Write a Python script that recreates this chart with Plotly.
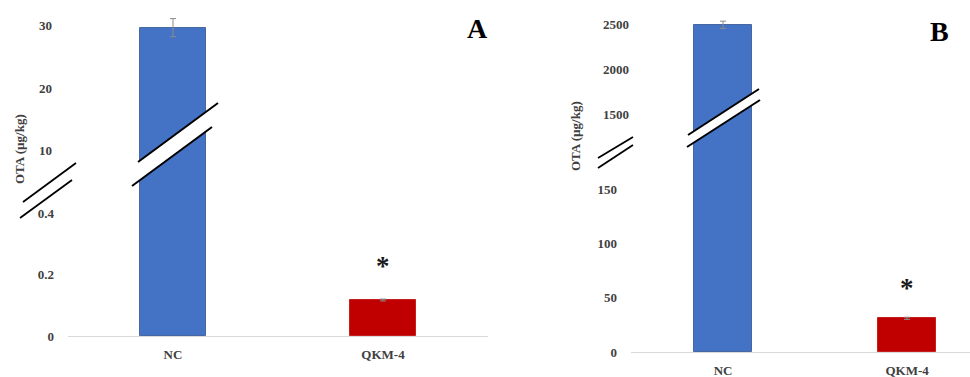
import plotly.graph_objects as go

# ---- data -------------------------------------------------------------
categories = ["NC", "QKM-4"]

ota_a = [29.7, 0.117]        # panel A, OTA (µg/kg)
err_a = [1.45, 0.003]

ota_b = [2495, 31]           # panel B, OTA (µg/kg)
err_b = [40, 1]

ticks_a_low = [0, 0.2, 0.4]
ticks_a_high = [10, 20, 30]
ticks_b_low = [0, 50, 100, 150]
ticks_b_high = [1500, 2000, 2500]

bar_colors = ["#4472C4", "#C00000"]
bar_edges = ["#46679F", "#C42020"]

# ---- page geometry helpers ---------------------------------------------
W, H = 970, 377


def px(x):
    return x / W


def py(y):
    return 1 - y / H


FONT = "Liberation Serif, Times New Roman, Times, serif"
TXT = "#3f3f3f"

fig = go.Figure()


def add_bars(xa, ya, vals, errs):
    fig.add_trace(go.Bar(
        x=categories, y=vals, xaxis=xa, yaxis=ya, width=0.315,
        marker=dict(color=bar_colors, line=dict(color=bar_edges, width=1)),
        error_y=dict(type="data", array=errs, color="#8c8c8c",
                     thickness=1, width=3),
        showlegend=False, hoverinfo="x+y",
    ))


# panel A: lower and upper segments of the broken axis
add_bars("x", "y", ota_a, err_a)
add_bars("x", "y2", ota_a, err_a)
# panel B
add_bars("x2", "y3", ota_b, err_b)
add_bars("x2", "y4", ota_b, err_b)

tick_font = dict(family=FONT, size=13, color=TXT, weight="bold")


def yax(domain, rng, vals, standoff):
    return dict(domain=domain, range=rng, tickvals=vals,
                ticktext=[str(v) for v in vals], showgrid=False,
                zeroline=False, showline=False, ticks="",
                tickfont=tick_font, ticklabelstandoff=standoff,
                automargin=False, fixedrange=True)


def xax(domain, rng, anchor):
    return dict(domain=domain, range=rng, anchor=anchor, type="category",
                showline=True, linecolor="#d9d9d9", linewidth=1,
                showgrid=False, zeroline=False, ticks="",
                tickfont=tick_font, ticklabelstandoff=6,
                automargin=False, fixedrange=True)


# pixel rows of the baselines, the axis breaks and the plot top
A_BASE, A_CUT, TOP = 336, 190, 10
B_BASE, B_CUT = 352, 160
A_LOW_SCALE, A_HIGH_SCALE = 307.5, 6.25     # px per unit
B_LOW_SCALE, B_HIGH_SCALE = 1.0867, 0.09

# lower segment reaches one pixel into the upper one so the bar is seamless
fig.update_layout(
    width=W, height=H, autosize=False, template="none",
    margin=dict(l=0, r=0, t=0, b=0, pad=0),
    paper_bgcolor="white", plot_bgcolor="rgba(0,0,0,0)",
    barmode="group", bargap=0.0,
    xaxis=xax([px(68), px(488)], [-0.5, 1.5], "y"),
    yaxis=dict(**yax([py(A_BASE), py(A_CUT - 1)],
                     [0, (A_BASE - A_CUT + 1) / A_LOW_SCALE],
                     ticks_a_low, 13), anchor="x"),
    yaxis2=dict(**yax([py(A_CUT), py(TOP)],
                      [10 - (A_CUT - 150.8) / A_HIGH_SCALE,
                       30 + (25.8 - TOP) / A_HIGH_SCALE],
                      ticks_a_high, 15), anchor="x"),
    xaxis2=xax([px(631), 1.0], [-0.5, 1.342], "y3"),
    yaxis3=dict(**yax([py(B_BASE), py(B_CUT - 1)],
                      [0, (B_BASE - B_CUT + 1) / B_LOW_SCALE],
                      ticks_b_low, 13), anchor="x2"),
    yaxis4=dict(**yax([py(B_CUT), py(TOP)],
                      [2000 - (B_CUT - 69.3) / B_HIGH_SCALE,
                       2000 + (69.3 - TOP) / B_HIGH_SCALE],
                      ticks_b_high, 1), anchor="x2"),
)

# ---- axis-break symbols --------------------------------------------------
shapes = []


def seg(x0, y0, x1, y1, w=1.8):
    shapes.append(dict(type="line", xref="paper", yref="paper",
                       x0=px(x0), y0=py(y0), x1=px(x1), y1=py(y1),
                       line=dict(color="black", width=w)))


def gap(p1, p2, q1, q2):
    # white band cut through a bar, outlined by two slanted strokes
    path = "M {} {} L {} {} L {} {} L {} {} Z".format(
        px(p1[0]), py(p1[1]), px(p2[0]), py(p2[1]),
        px(q2[0]), py(q2[1]), px(q1[0]), py(q1[1]))
    shapes.append(dict(type="path", xref="paper", yref="paper", path=path,
                       fillcolor="white", line=dict(width=0)))
    seg(*p1, *p2, w=2)
    seg(*q1, *q2, w=2)


# panel A
seg(23, 202, 76, 163)
seg(20, 218, 72, 180)
gap((138, 162), (218, 103), (132, 186), (212, 127))
# panel B
seg(598, 158, 633, 137)
seg(598, 168, 633, 145)
gap((688, 135), (759, 89), (687, 147), (760, 100))

fig.update_layout(shapes=shapes)

# ---- text ---------------------------------------------------------------
ann = []
title_font = dict(family=FONT, size=13, color=TXT, weight="bold")
ann.append(dict(text="OTA (µg/kg)", xref="paper", yref="paper",
                x=px(20), y=py(149), xanchor="center", yanchor="middle",
                textangle=-90, showarrow=False, font=title_font))
ann.append(dict(text="OTA (µg/kg)", xref="paper", yref="paper",
                x=px(575), y=py(136), xanchor="center", yanchor="middle",
                textangle=-90, showarrow=False, font=title_font))

star_font = dict(family=FONT, size=27, color="#1a1a1a", weight="bold")
ann.append(dict(text="*", xref="x", yref="y", x=categories[1], y=ota_a[1],
                xanchor="center", yanchor="bottom", yshift=17,
                showarrow=False, font=star_font))
ann.append(dict(text="*", xref="x2", yref="y3", x=categories[1], y=ota_b[1],
                xanchor="center", yanchor="bottom", yshift=13,
                showarrow=False, font=star_font))

letter_font = dict(family=FONT, size=28, color="black", weight="bold")
ann.append(dict(text="A", xref="paper", yref="paper", x=px(477), y=py(29),
                xanchor="center", yanchor="middle", showarrow=False,
                font=letter_font))
ann.append(dict(text="B", xref="paper", yref="paper", x=px(939), y=py(31),
                xanchor="center", yanchor="middle", showarrow=False,
                font=letter_font))

fig.update_layout(annotations=ann)

fig.write_html("out.html", config={"displayModeBar": False})
